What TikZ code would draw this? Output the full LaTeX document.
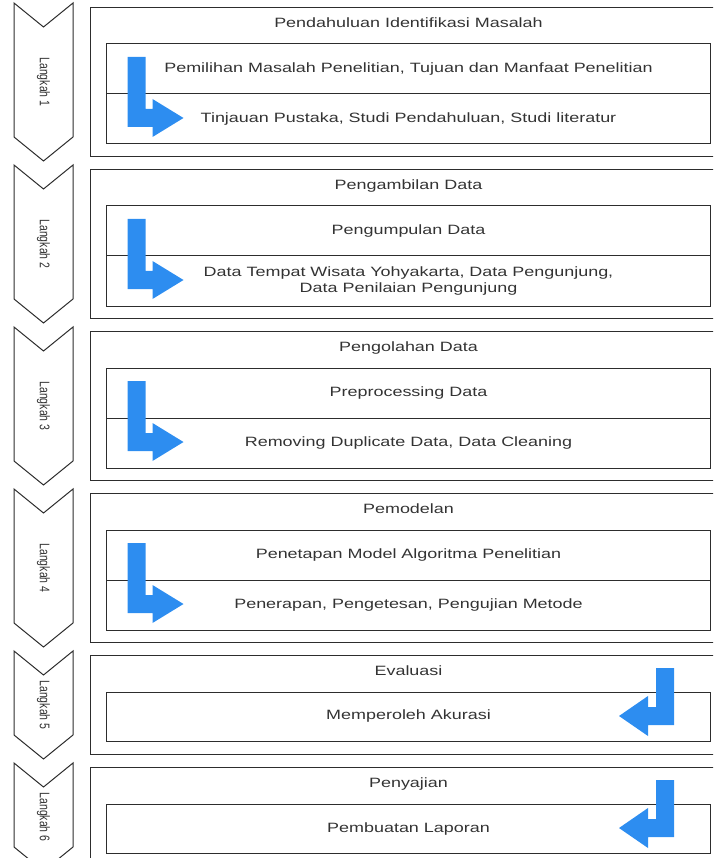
\documentclass[tikz,border=0pt]{standalone}
\usepackage{fontspec}
\setmainfont{Liberation Sans}
\usepackage{graphicx}
\usetikzlibrary{positioning,calc}

\definecolor{stepblue}{RGB}{45,141,240}
\definecolor{linegray}{RGB}{45,45,45}
\definecolor{textgray}{RGB}{51,51,51}
\newcommand{\wtxt}[1]{\scalebox{1.33}[1]{#1}}

\begin{document}
\begin{tikzpicture}[
  x=1pt, y=-1pt,
  every node/.style={text=textgray},
  stage/.style={draw=linegray,line width=1pt,minimum width=636pt,inner sep=0pt},
  stagetitle/.style={font=\fontsize{13.5}{15.5}\selectfont,inner sep=0pt,anchor=mid},
  rowbox/.style={draw=linegray,line width=1pt,minimum width=604pt,minimum height=50pt,
    inner sep=0pt,outer sep=0pt,align=center,font=\fontsize{13.5}{15.5}\selectfont},
  chev/.style={draw=linegray,line width=1pt,fill=white},
  steplabel/.style={font=\fontsize{10.5}{12}\selectfont,inner sep=0pt},
  bluearrow/.style={fill=stepblue}
]
\useasboundingbox (0,0) rectangle (713,858);
\clip (0,0) rectangle (713,858);

% stages
\node[stage,minimum height=149pt,anchor=north west] (o1) at (90,7) {};
\node[stage,minimum height=149pt,below=12pt of o1] (o2) {};
\node[stage,minimum height=149pt,below=12pt of o2] (o3) {};
\node[stage,minimum height=149pt,below=12pt of o3] (o4) {};
\node[stage,minimum height=99pt,below=12pt of o4] (o5) {};
\node[stage,minimum height=99pt,below=12pt of o5] (o6) {};

% titles
\node[stagetitle] (t1) at ($(o1.north)+(0,18)$) {\wtxt{Pendahuluan Identifikasi Masalah}};
\node[stagetitle] (t2) at ($(o2.north)+(0,18)$) {\wtxt{Pengambilan Data}};
\node[stagetitle] (t3) at ($(o3.north)+(0,18)$) {\wtxt{Pengolahan Data}};
\node[stagetitle] (t4) at ($(o4.north)+(0,18)$) {\wtxt{Pemodelan}};
\node[stagetitle] (t5) at ($(o5.north)+(0,18)$) {\wtxt{Evaluasi}};
\node[stagetitle] (t6) at ($(o6.north)+(0,18)$) {\wtxt{Penyajian}};

% rows
\node[rowbox,below=37pt of o1.north] (r1a) {\wtxt{Pemilihan Masalah Penelitian, Tujuan dan Manfaat Penelitian}};
\node[rowbox,below=0pt of r1a] (r1b) {\wtxt{Tinjauan Pustaka, Studi Pendahuluan, Studi literatur}};
\node[rowbox,below=37pt of o2.north] (r2a) {\wtxt{Pengumpulan Data}};
\node[rowbox,below=0pt of r2a] (r2b) {\wtxt{Data Tempat Wisata Yohyakarta, Data Pengunjung,}\\\wtxt{Data Penilaian Pengunjung}};
\node[rowbox,below=37pt of o3.north] (r3a) {\wtxt{Preprocessing Data}};
\node[rowbox,below=0pt of r3a] (r3b) {\wtxt{Removing Duplicate Data, Data Cleaning}};
\node[rowbox,below=37pt of o4.north] (r4a) {\wtxt{Penetapan Model Algoritma Penelitian}};
\node[rowbox,below=0pt of r4a] (r4b) {\wtxt{Penerapan, Pengetesan, Pengujian Metode}};
\node[rowbox,minimum height=49pt,below=37pt of o5.north] (r5a) {\wtxt{Memperoleh Akurasi}};
\node[rowbox,minimum height=49pt,below=37pt of o6.north] (r6a) {\wtxt{Pembuatan Laporan}};

% blue arrows
\foreach \r in {r1a,r2a,r3a,r4a}
  \fill[bluearrow,shift={(\r.north west)}] (21,13) -- (39,13) -- (39,65) -- (46,65) -- (46,55)
    -- (77,74) -- (46,93) -- (46,83) -- (21,83) -- cycle;
\foreach \o in {o5,o6}
  \fill[bluearrow,shift={(\o.north west)}] (566,13) -- (584,13) -- (584,70) -- (558,70) -- (558,81)
    -- (529,61) -- (558,41) -- (558,52) -- (566,52) -- cycle;

% chevrons
\foreach \i in {1,...,6}{
  \draw[chev] ($(o\i.north west)+(-76,-4)$) -- ($(o\i.north west)+(-46.5,20)$)
    -- ($(o\i.north west)+(-17,-4)$) -- ($(o\i.south west)+(-17,-20)$)
    -- ($(o\i.south west)+(-46.5,4)$) -- ($(o\i.south west)+(-76,-20)$) -- cycle;
  \node[steplabel] (s\i) at ($(o\i.west)+(-46.5,0)$) {\wtxt{\rotatebox{-90}{Langkah \i}}};
}
\end{tikzpicture}
\end{document}
